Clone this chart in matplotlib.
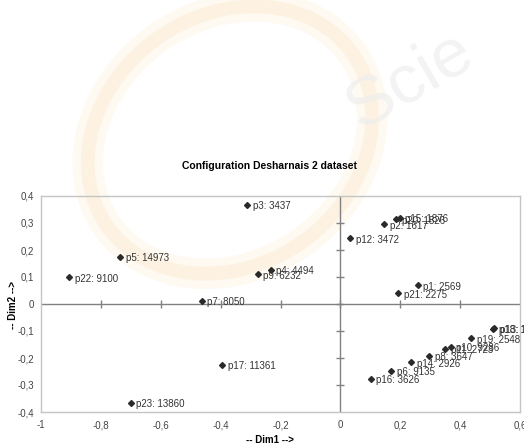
import matplotlib
matplotlib.use("Agg")
import matplotlib.pyplot as plt
from matplotlib.patches import Ellipse

plt.rcParams['font.family'] = ['Liberation Sans', 'DejaVu Sans']

# Project labels with effort values and their coordinates on the two dimensions
labels = ["p1: 2569", "p2: 1617", "p3: 3437", "p4: 4494", "p5: 14973", "p6: 9135",
          "p7: 8050", "p8: 3647", "p9: 6232", "p10: 9286", "p11: 2723", "p12: 3472",
          "p13: 1960", "p14: 2926", "p15: 1876", "p16: 3626", "p17: 11361", "p18: 1906",
          "p19: 2548", "p20: 1826", "p21: 2275", "p22: 9100", "p23: 13860"]
dim1 = [0.258, 0.146, -0.311, -0.233, -0.736, 0.169, -0.463, 0.296, -0.276, 0.368, 0.350,
        0.033, 0.513, 0.237, 0.198, 0.102, -0.394, 0.511, 0.437, 0.187, 0.194, -0.906, -0.700]
dim2 = [0.069, 0.295, 0.367, 0.126, 0.174, -0.248, 0.011, -0.191, 0.110, -0.158, -0.165,
        0.243, -0.090, -0.216, 0.319, -0.278, -0.226, -0.093, -0.127, 0.314, 0.040, 0.099, -0.366]

xticks = [-1, -0.8, -0.6, -0.4, -0.2, 0, 0.2, 0.4, 0.6]
yticks = [-0.4, -0.3, -0.2, -0.1, 0, 0.1, 0.2, 0.3, 0.4]

fig = plt.figure(figsize=(5.24, 4.46), dpi=100)
fig.patch.set_facecolor('white')

# faint publisher watermark behind the chart
wm = fig.add_axes([0, 0, 1, 1], zorder=0)
wm.set_xlim(0, 524)
wm.set_ylim(446, 0)
wm.axis('off')
for w, a in [(22, 0.06), (10, 0.07)]:
    wm.add_patch(Ellipse((230, 140), 300, 250, angle=-35, fill=False,
                         edgecolor='#f0a020', lw=w, alpha=a))
wm.text(410, 80, "Scie", fontsize=50, color='#eeeeee', rotation=30,
        ha='center', va='center', alpha=0.7, clip_on=True)

ax = fig.add_axes([41 / 524, 1 - 412 / 446, (520 - 41) / 524, (412 - 196) / 446], zorder=1)
ax.patch.set_alpha(0)
ax.set_xlim(-1, 0.6)
ax.set_ylim(-0.4, 0.4)

for s in ax.spines.values():
    s.set_color('#c4c4c4')
    s.set_linewidth(1.0)

# axes crossing at the origin
ax.axhline(0, color='#808080', lw=1.0, zorder=1)
ax.axvline(0, color='#808080', lw=1.0, zorder=1)
ax.plot(xticks[1:-1], [0] * (len(xticks) - 2), linestyle='none', marker='|',
        markersize=6, color='#808080', mew=1.0, zorder=1)
ax.plot([0] * (len(yticks) - 2), yticks[1:-1], linestyle='none', marker='_',
        markersize=6, color='#808080', mew=1.0, zorder=1)

ax.set_xticks(xticks)
ax.set_yticks(yticks)
ax.set_xticklabels(["-1" if v == -1 else ("0" if v == 0 else f"{v:.1f}".replace('.', ','))
                    for v in xticks])
ax.set_yticklabels(["0" if v == 0 else f"{v:.1f}".replace('.', ',') for v in yticks])
ax.tick_params(axis='x', length=0, labelsize=7, labelcolor='#444444', pad=6)
ax.tick_params(axis='y', length=0, labelsize=7, labelcolor='#444444', pad=5)

ax.plot(dim1, dim2, linestyle='none', marker='D', markersize=3,
        color='#2a2a2a', zorder=3)
for x, y, t in zip(dim1, dim2, labels):
    ax.annotate(t, (x, y), xytext=(4, -1), textcoords='offset points',
                fontsize=7, color='#333333', va='center', ha='left',
                annotation_clip=False, clip_on=False, zorder=4)

fig.text(270 / 524, 1 - 440 / 446, "-- Dim1 -->", fontsize=7, fontweight='bold',
         ha='center', va='center')
fig.text(13 / 524, 1 - 305 / 446, "-- Dim2 -->", fontsize=7, fontweight='bold',
         ha='center', va='center', rotation=90)
fig.text(270 / 524, 1 - 166 / 446, "Configuration Desharnais 2 dataset",
         fontsize=7.5, fontweight='bold', ha='center', va='center')

fig.savefig("out.png", dpi=100)
